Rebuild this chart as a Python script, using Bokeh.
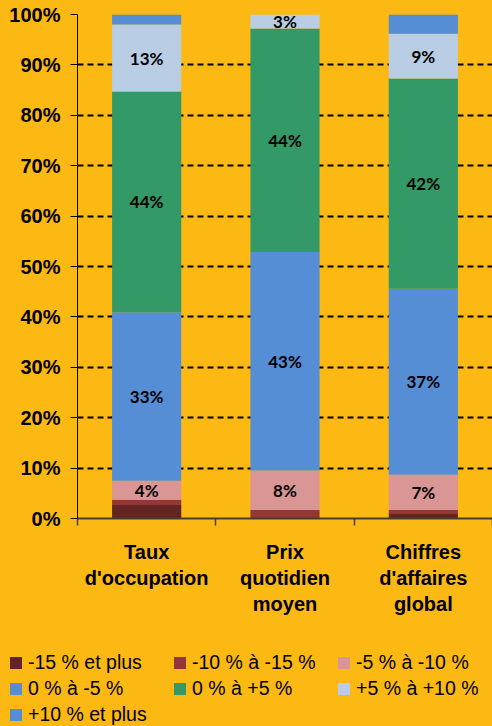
from bokeh.plotting import figure
from bokeh.models import Range1d, FixedTicker, Legend, LegendItem, ColumnDataSource
from bokeh.layouts import column
from bokeh.embed import file_html
from bokeh.resources import INLINE
from bokeh.core.properties import value
import numpy as np

# ---- data ----
categories = ["Taux\nd'occupation", "Prix\nquotidien\nmoyen", "Chiffres\nd'affaires\nglobal"]
series_names = ["-15 % et plus", "-10 % à -15 %", "-5 % à -10 %", "0 % à -5 %",
                "0 % à +5 %", "+5 % à +10 %", "+10 % et plus"]
s_m15 = [2.7, 0.0, 0.9]
s_m10 = [1.0, 1.7, 0.8]
s_m5 = [3.8, 7.8, 7.0]
s_m0 = [33.4, 43.4, 36.9]
s_p0 = [43.8, 44.3, 41.7]
s_p5 = [13.3, 2.8, 8.9]
s_p10 = [2.0, 0.0, 3.8]
labelled_series = [2, 3, 4, 5]
y_ticks = [0, 10, 20, 30, 40, 50, 60, 70, 80, 90, 100]
y_tick_labels = ["0%", "10%", "20%", "30%", "40%", "50%", "60%", "70%", "80%", "90%", "100%"]
colors = ["#632523", "#953735", "#D99694", "#558ED5", "#339966", "#B9CDE5", "#558ED5"]

BG = "#FCB914"
series = [s_m15, s_m10, s_m5, s_m0, s_p0, s_p5, s_p10]
keys = ["s%d" % i for i in range(len(series))]
xpos = np.arange(len(categories)) + 0.5

data = {"x": xpos}
for k, s in zip(keys, series):
    data[k] = np.array(s) / 100.0
src = ColumnDataSource(data)

p = figure(width=492, height=640, x_range=Range1d(0, len(categories)), y_range=Range1d(0, 1),
           output_backend="svg", toolbar_location=None,
           min_border_left=77, min_border_right=0, min_border_top=14, min_border_bottom=122,
           styles={"background-color": BG})
p.background_fill_color = BG
p.border_fill_color = BG
p.outline_line_color = None
p.frame_align = False

renderers = p.vbar_stack(keys, x="x", width=0.5, source=src, fill_color=colors, line_color=None)

# value labels
cum = np.cumsum(np.array(series), axis=0)
lx, ly, lt = [], [], []
for si in labelled_series:
    for ci in range(len(categories)):
        v = series[si][ci]
        top = cum[si][ci]
        lx.append(xpos[ci])
        ly.append((top - v / 2.0) / 100.0)
        lt.append("%d%%" % round(v))
p.text(x=lx, y=ly, text=lt, text_font=value("Lato"), text_font_style="bold",
       text_font_size="17px", text_align="center", text_baseline="middle", text_color="black")

# x axis
p.xaxis.ticker = FixedTicker(ticks=list(xpos), minor_ticks=list(range(len(categories) + 1)))
p.xaxis.major_label_overrides = {float(x): c for x, c in zip(xpos, categories)}
p.xaxis.major_tick_out = 0
p.xaxis.major_tick_in = 0
p.xaxis.minor_tick_out = 7
p.xaxis.minor_tick_in = 0
p.xaxis.minor_tick_line_color = "#404030"
p.xaxis.minor_tick_line_width = 1.5
p.xaxis.axis_line_color = "#404030"
p.xaxis.axis_line_width = 2
p.xaxis.major_label_text_font = "Liberation Sans"
p.xaxis.major_label_text_font_style = "bold"
p.xaxis.major_label_text_font_size = "20px"
p.xaxis.major_label_text_color = "black"
p.xaxis.major_label_text_line_height = 1.2
p.xaxis.major_label_standoff = 15

# y axis
p.yaxis.ticker = FixedTicker(ticks=[t / 100.0 for t in y_ticks])
p.yaxis.major_label_overrides = {t / 100.0: l for t, l in zip(y_ticks, y_tick_labels)}
p.yaxis.major_tick_out = 7
p.yaxis.major_tick_in = 0
p.yaxis.minor_tick_line_color = None
p.yaxis.axis_line_color = "black"
p.yaxis.major_tick_line_color = "black"
p.yaxis.major_label_text_font = "Liberation Sans"
p.yaxis.major_label_text_font_style = "bold"
p.yaxis.major_label_text_font_size = "20px"
p.yaxis.major_label_text_color = "black"
p.yaxis.major_label_standoff = 10

p.xgrid.visible = False
p.ygrid.ticker = FixedTicker(ticks=[t / 100.0 for t in y_ticks])
p.ygrid.grid_line_color = "black"
p.ygrid.grid_line_dash = "6 4"
p.ygrid.grid_line_width = 2

# legend figure (key only)
q = figure(width=492, height=86, x_range=Range1d(0, 1), y_range=Range1d(0, 1),
           output_backend="svg", toolbar_location=None,
           x_axis_location=None, y_axis_location=None,
           min_border_left=0, min_border_right=0, min_border_top=0, min_border_bottom=0,
           styles={"background-color": BG})
q.background_fill_color = BG
q.border_fill_color = BG
q.outline_line_color = None
q.grid.visible = False
q.frame_align = False
dummy = ColumnDataSource({"x": [-1.0], **{k: [0.0] for k in keys}})
lrends = q.vbar_stack(keys, x="x", width=0.1, source=dummy, fill_color=colors, line_color=None)

legend = Legend(items=[LegendItem(label=n, renderers=[r]) for n, r in zip(series_names, lrends)],
                orientation="horizontal", ncols=3, location=(8, 0),
                glyph_width=15, glyph_height=15, label_standoff=5, label_width=141,
                label_height=21, spacing=3, padding=0, margin=0,
                border_line_color=None, background_fill_alpha=0,
                label_text_font="Liberation Sans", label_text_font_size="19.5px",
                label_text_color="black")
q.add_layout(legend, "center")

layout = column(p, q, spacing=0, styles={"background-color": BG})
open("out.html", "w").write(file_html(layout, INLINE))
